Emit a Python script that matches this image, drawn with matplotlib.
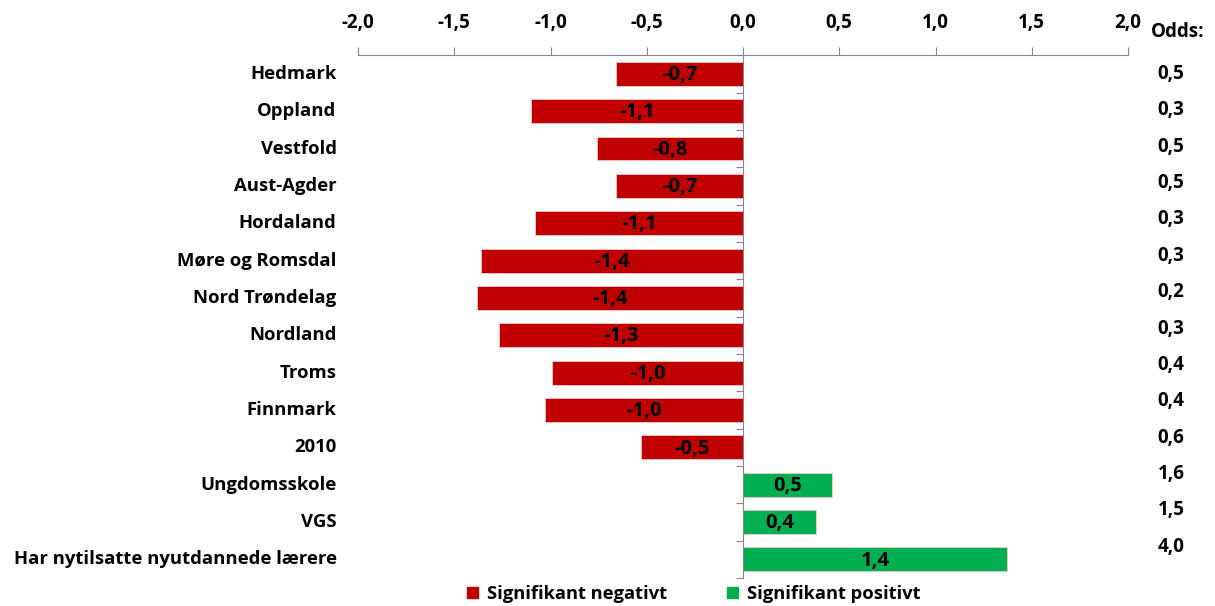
import matplotlib
matplotlib.use('Agg')
import matplotlib.pyplot as plt
from matplotlib.ticker import FuncFormatter
import numpy as np

categories = ['Hedmark', 'Oppland', 'Vestfold', 'Aust-Agder', 'Hordaland',
              'Møre og Romsdal', 'Nord Trøndelag', 'Nordland', 'Troms',
              'Finnmark', '2010', 'Ungdomsskole', 'VGS',
              'Har nytilsatte nyutdannede lærere']
values = [-0.66, -1.10, -0.76, -0.66, -1.08, -1.36, -1.38, -1.27, -0.99,
          -1.03, -0.53, 0.46, 0.38, 1.37]
odds = ['0,5', '0,3', '0,5', '0,5', '0,3', '0,3', '0,2', '0,3', '0,4',
        '0,4', '0,6', '1,6', '1,5', '4,0']

RED = '#C00000'
GREEN = '#00B050'
GRAY = '#868686'
FS = 13.5

plt.rcParams['font.family'] = ['Open Sans', 'DejaVu Sans']
plt.rcParams['font.weight'] = 'bold'

fig = plt.figure(figsize=(12.15, 6.06), dpi=100)
ax = fig.add_axes([0.2947, 0.046, 0.9284 - 0.2947, 0.909 - 0.046])

n = len(categories)
y = np.arange(n)
colors = [RED if v < 0 else GREEN for v in values]
ax.barh(y, values, height=0.64, color=colors, edgecolor='#f0c8c8', linewidth=0.6, zorder=2)
for i, v in enumerate(values):
    ax.text(v / 2, i + 0.03, f'{v:.1f}'.replace('.', ','), ha='center', va='center',
            fontsize=14.5, fontweight='bold', color='black', zorder=3)

ax.set_xlim(-2, 2)
ax.set_ylim(n - 0.5, -0.5)

# top value axis
ax.xaxis.tick_top()
ax.set_xticks(np.arange(-2, 2.01, 0.5))
ax.xaxis.set_major_formatter(FuncFormatter(lambda v, p: f'{v:.1f}'.replace('.', ',')))
ax.tick_params(axis='x', direction='out', length=6, color=GRAY, labelsize=FS, pad=10)
for lab in ax.get_xticklabels():
    lab.set_fontweight('bold')

# category axis at zero, ticks between categories
ax.spines['left'].set_position(('data', 0))
ax.spines['left'].set_color(GRAY)
ax.spines['top'].set_color(GRAY)
ax.spines['right'].set_visible(False)
ax.spines['bottom'].set_visible(False)
ax.set_yticks(np.arange(-0.5, n, 1))
ax.set_yticklabels([])
ax.tick_params(axis='y', direction='out', length=5, color=GRAY)

for i, c in enumerate(categories):
    ax.text(-0.028, i, c, transform=ax.get_yaxis_transform(), ha='right', va='center',
            fontsize=13.3, fontweight='bold')
    ax.text(1.056, i * 0.974, odds[i], transform=ax.get_yaxis_transform(), ha='center',
            va='center', fontsize=FS, fontweight='bold')

fig.text(0.9475, 0.948, 'Odds:', ha='left', va='center', fontsize=FS, fontweight='bold')

# legend
handles = [plt.Rectangle((0, 0), 1, 1, color=RED), plt.Rectangle((0, 0), 1, 1, color=GREEN)]
fig.legend(handles, ['Signifikant negativt', 'Signifikant positivt'], loc='center',
           bbox_to_anchor=(0.571, 0.02), ncol=2, frameon=False,
           handlelength=0.6, handleheight=0.6, columnspacing=3.3, handletextpad=0.5,
           prop={'weight': 'bold', 'size': 13.2})

fig.savefig('out.png', dpi=100)
